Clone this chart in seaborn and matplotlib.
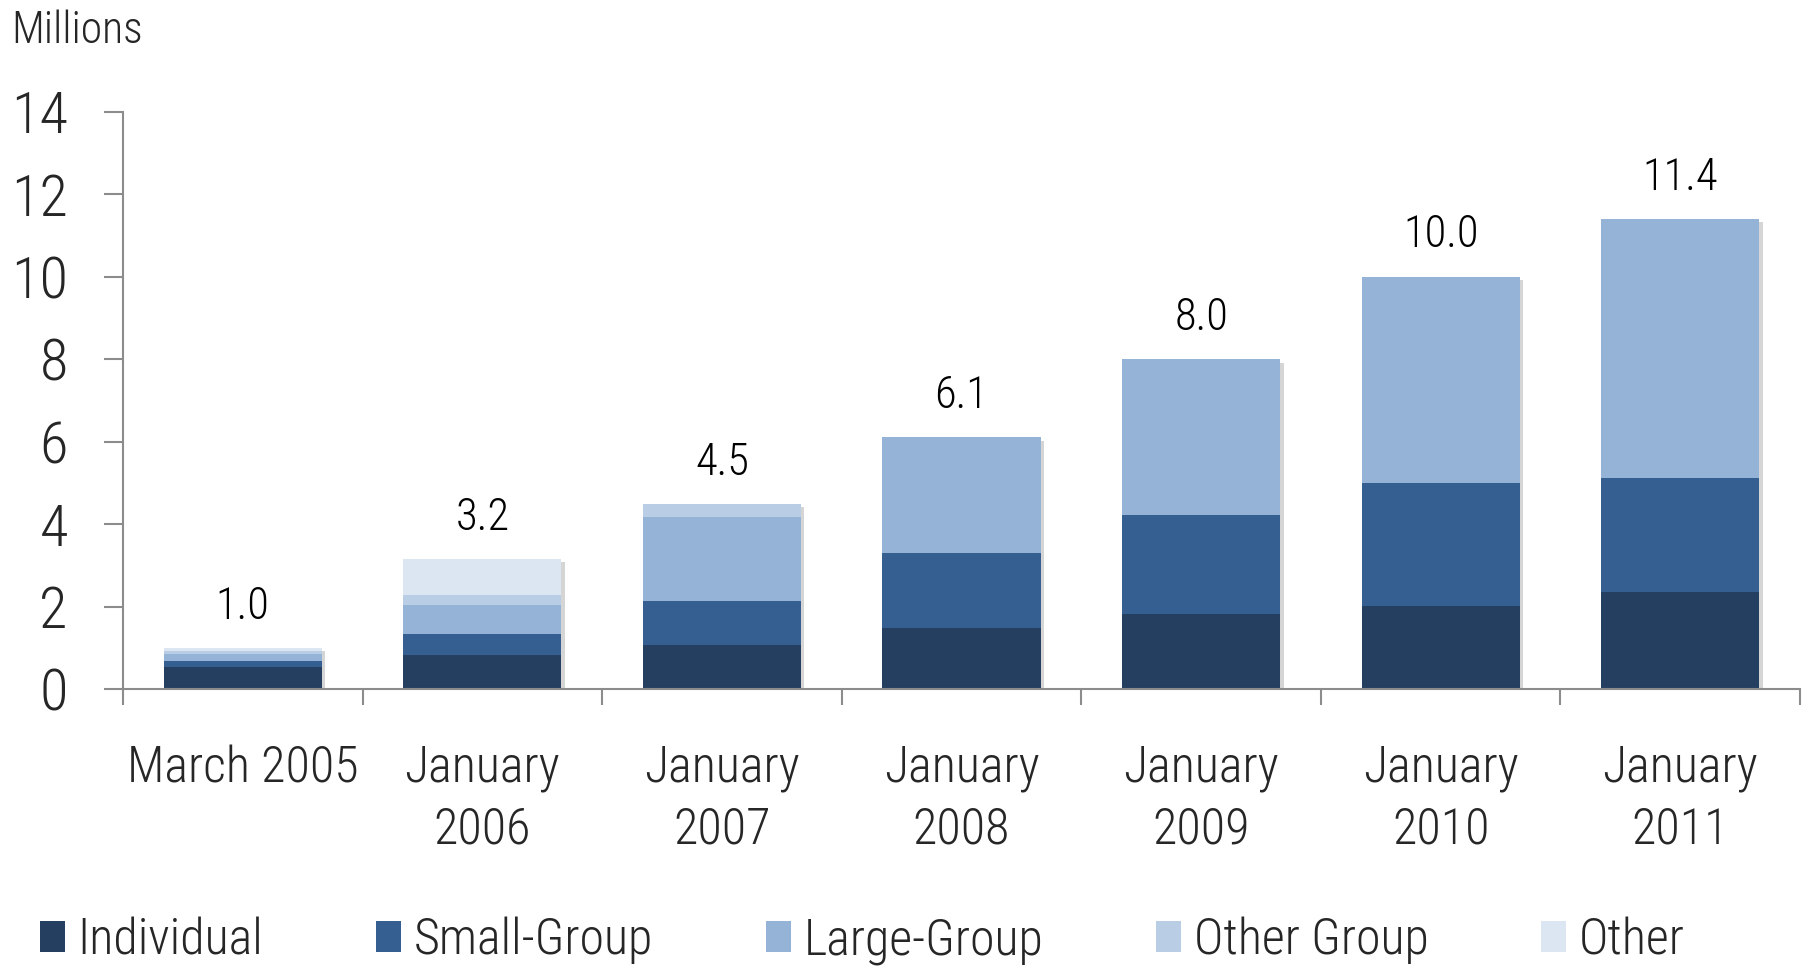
import numpy as np
import pandas as pd
import matplotlib
matplotlib.use("Agg")
import matplotlib.pyplot as plt
import matplotlib.patheffects as pe
from matplotlib.patches import Patch
from matplotlib import font_manager
import seaborn as sns

# ---------------- data ----------------
categories = ["March 2005", "January\n2006", "January\n2007", "January\n2008",
              "January\n2009", "January\n2010", "January\n2011"]
individual = [0.53, 0.83, 1.07, 1.47, 1.81, 2.02, 2.34]
small_group = [0.15, 0.51, 1.07, 1.83, 2.42, 2.98, 2.78]
large_group = [0.16, 0.69, 2.03, 2.80, 3.77, 5.00, 6.28]
other_group = [0.08, 0.26, 0.32, 0.0, 0.0, 0.0, 0.0]
other = [0.08, 0.87, 0.0, 0.0, 0.0, 0.0, 0.0]
series_names = ["Individual", "Small-Group", "Large-Group", "Other Group", "Other"]
series_colors = ["#253F60", "#355F91", "#95B3D7", "#B9CDE5", "#DCE6F2"]
y_ticks = [0, 2, 4, 6, 8, 10, 12, 14]

# ---------------- fonts ----------------
sns.set_style("white")
fl = font_manager.fontManager.ttflist
names = {f.name for f in fl}
chosen = None
stretch = "normal"
for cand in ["Liberation Sans Narrow", "Roboto Condensed", "Arial Narrow",
             "Open Sans Condensed", "Noto Sans Condensed", "Noto Sans Display Condensed"]:
    if cand in names:
        chosen = cand
        break
if chosen is None:
    for f in fl:
        if str(f.stretch) in ("condensed", "semi-condensed", "extra-condensed", "ultra-condensed") \
                and f.style == "normal" and str(f.weight) in ("400", "normal", "regular", "book"):
            chosen = f.name
            stretch = f.stretch
            break
if chosen is None:
    for f in fl:
        if ("Condensed" in f.name or "Narrow" in f.name) and f.style == "normal":
            chosen = f.name
            break
if chosen is None:
    chosen = "Roboto"
light_ok = any(f.name == chosen and str(f.weight) in ("300", "light") for f in fl)
plt.rcParams["font.family"] = [chosen, "DejaVu Sans"]
plt.rcParams["font.stretch"] = stretch
plt.rcParams["font.weight"] = "light" if light_ok else "normal"

AXIS_GRAY = "#8C8C8C"

fig = plt.figure(figsize=(18.06, 9.67), dpi=100)
ax = fig.add_axes([123 / 1806, 0.2875, (1800 - 123) / 1806, 0.597])

series = [individual, small_group, large_group, other_group, other]
cum = np.cumsum(np.array(series), axis=0)  # cumulative heights

# draw from the tallest cumulative layer down so lower layers overlay
for k in range(len(series) - 1, -1, -1):
    df = pd.DataFrame({"cat": categories, "val": cum[k]})
    sns.barplot(data=df, x="cat", y="val", color=series_colors[k],
                saturation=1, width=0.66, ax=ax, linewidth=0, errorbar=None)

n = len(categories)
for p in ax.patches[:n]:
    p.set_path_effects([pe.SimplePatchShadow(offset=(2.5, -2.5), shadow_rgbFace="#777777", alpha=0.3),
                        pe.Normal()])

totals = cum[-1]
for i, t in enumerate(totals):
    ax.annotate(f"{t:.1f}", (i, t), xytext=(0, 21), textcoords="offset points",
                ha="center", va="baseline", fontsize=32, color="black")

ax.set_xlim(-0.5, n - 0.5)
ax.set_ylim(0, 14)
ax.set_yticks(y_ticks)
ax.set_yticklabels([str(v) for v in y_ticks])
ax.set_xlabel("")
ax.set_ylabel("")

for s in ["top", "right"]:
    ax.spines[s].set_visible(False)
for s in ["left", "bottom"]:
    ax.spines[s].set_color(AXIS_GRAY)
    ax.spines[s].set_linewidth(1.5)

ax.tick_params(axis="y", which="major", direction="out", length=13.7, width=1.5,
               color=AXIS_GRAY, labelsize=42, pad=26, left=True)
ax.set_xticks(np.arange(n))
ax.set_xticklabels(categories, linespacing=1.38)
ax.set_xticks(np.arange(-0.5, n, 1.0), minor=True)
ax.tick_params(axis="x", which="major", length=0, labelsize=36, pad=40, bottom=True)
ax.tick_params(axis="x", which="minor", direction="out", length=11.5, width=1.5,
               color=AXIS_GRAY, bottom=True)

fig.text(11.5 / 1806, 1 - 43 / 967, "Millions", fontsize=31.5, va="baseline", ha="left")

handles = [Patch(facecolor=c, edgecolor="none") for c in series_colors]
fig.legend(handles, series_names, loc="center left", bbox_to_anchor=(0.022, 0.027),
           ncol=5, frameon=False, fontsize=36, borderpad=0, borderaxespad=0,
           handlelength=0.5, handleheight=0.56, handletextpad=0.26, columnspacing=2.25)

fig.savefig("out.png", dpi=100)
